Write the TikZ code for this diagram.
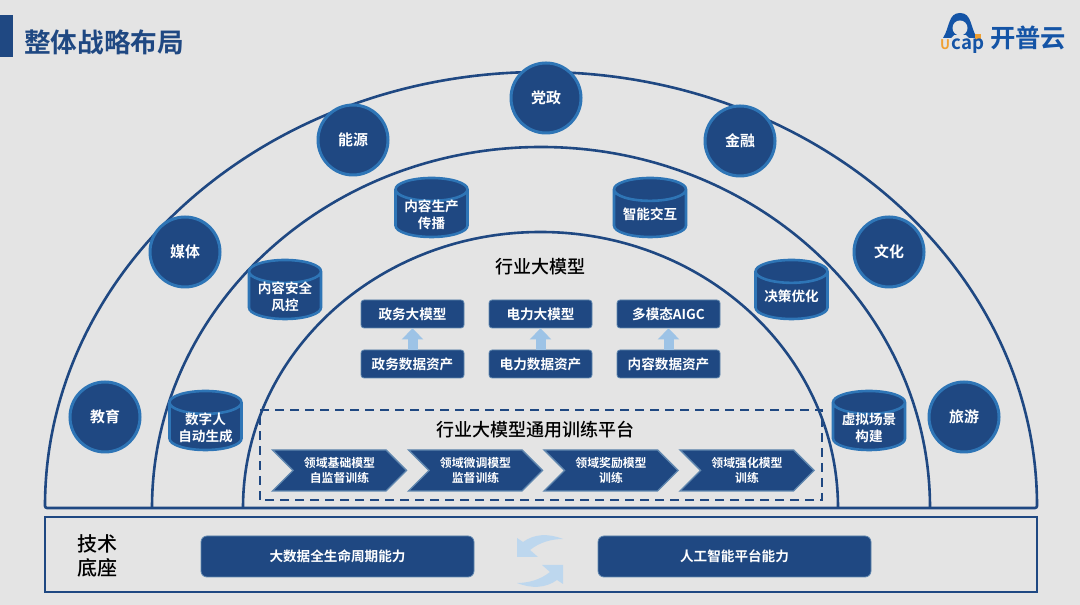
\documentclass[tikz,border=0pt]{standalone}
\usepackage{fontspec}
\setmainfont{Noto Sans CJK SC Medium}[BoldFont={Noto Sans CJK SC Bold}]
\definecolor{pagegray}{RGB}{228, 228, 228}
\definecolor{navy}{RGB}{31, 72, 130}
\definecolor{ringblue}{RGB}{46, 117, 182}
\definecolor{edgeblue}{RGB}{96, 135, 175}
\definecolor{arrowblue}{RGB}{157, 195, 230}
\definecolor{swapblue}{RGB}{189, 215, 238}
\definecolor{logoblue}{RGB}{20, 84, 166}
\definecolor{logoorange}{RGB}{240, 160, 50}
\usetikzlibrary{shapes.geometric, shapes.symbols, arrows.meta, positioning}
\def\px{0.75pt}
\tikzset{
  ring/.style={navy, line width=2.6*\px},
  sector/.style={circle, draw=ringblue, line width=3*\px, fill=navy, minimum size=70*\px, inner sep=0pt, text=white, font=\fontsize{11.2pt}{14pt}\selectfont\bfseries},
  drum/.style={cylinder, shape border rotate=90, aspect=0.42, anchor=shape center, draw=ringblue, line width=2.6*\px, fill=navy, minimum width=72*\px, minimum height=59*\px, inner sep=0pt, font=\fontsize{10.2pt}{12.8pt}\selectfont\bfseries},
  drumtext/.style={inner sep=0pt, text=white, align=center, font=\fontsize{10.2pt}{12.8pt}\selectfont\bfseries},
  modelbox/.style={rectangle, rounded corners=3*\px, draw=edgeblue, line width=0.8*\px, fill=navy, minimum width=103*\px, minimum height=28*\px, inner sep=0pt, text=white, font=\fontsize{10.2pt}{13pt}\selectfont\bfseries},
  basebox/.style={modelbox, rounded corners=6*\px, minimum width=273*\px, minimum height=41*\px},
  stage/.style={signal, signal to=east, signal from=west, signal pointer angle=90, draw=edgeblue, line width=1.4*\px, fill=navy, minimum width=134*\px, minimum height=41*\px, inner sep=0pt, text=white, align=center, font=\fontsize{8.9pt}{11pt}\selectfont\bfseries},
  upflow/.style={arrowblue, line width=10*\px, -{Triangle[width=21*\px, length=11*\px]}},
  heading/.style={text=black, font=\fontsize{13.5pt}{16pt}\selectfont},
}
\begin{document}
\begin{tikzpicture}[x=0.75pt, y=0.75pt]
  \useasboundingbox (0,0) rectangle (1080,605);
  \fill[pagegray] (0,0) rectangle (1080,605);
  % title
  \fill[navy] (0,548) rectangle (13,590);
  \node[anchor=west, inner sep=0pt, text=navy, font=\fontsize{20pt}{24pt}\selectfont\bfseries] (title) at (24,563) {整体战略布局};
  % logo
  \fill[logoblue] (943,567) .. controls (950,578) and (948,592) .. (960,592) .. controls (972,592) and (970,578) .. (977,567) -- (969,567) -- (966,570) -- (954,570) -- (951,567) -- cycle;
  \fill[pagegray] (960,577) circle (7.5);
  \fill[logoorange] (975,565) rectangle (981,571);
  \node[inner sep=0pt, text=logoorange, font=\fontsize{10pt}{12pt}\selectfont\bfseries] (logou) at (945,560) {U};
  \node[base right=1pt of logou, inner sep=0pt, text=logoblue, font=\fontsize{14pt}{12pt}\selectfont\bfseries] (logocap) {cap};
  \node[inner sep=0pt, text=logoblue, font=\fontsize{19pt}{20pt}\selectfont\bfseries] (logoname) at (1028,567) {开普云};
  % arcs
  \draw[ring, rounded corners=2*\px] (45,97) arc[start angle=180, end angle=0, x radius=496, y radius=436] -- cycle;
  \draw[ring] (152,97) arc[start angle=180, end angle=0, x radius=389, y radius=361];
  \draw[ring] (243,97) arc[start angle=180, end angle=0, x radius=297.5, y radius=276];
  % sectors
  \foreach \name/\xc/\yc/\txt in {party/546/507/党政, energy/353/465/能源, finance/740/464/金融, media/185/353/媒体, culture/889/353/文化, edu/105/188/教育, travel/964/188/旅游} {
    \node[sector] (\name) at (\xc,\yc) {\txt};
  }
  % scenes
  \foreach \name/\xc/\yc/\txt in {produce/431.5/397.5/{内容生产\\传播}, interact/650/397.5/{智能交互}, safety/285/315.5/{内容安全\\风控}, decide/791.5/315.5/{决策优化}, human/205.5/184.5/{数字人\\自动生成}, scene/869/184.5/{虚拟场景\\构建}} {
    \node[drum] (\name) at (\xc,\yc) {\phantom{智能交互}};
    \node[drumtext, yshift=-7*\px] (\name text) at (\name.shape center) {\txt};
  }
  % models
  \node[heading] (modelhead) at (540,338) {行业大模型};
  \foreach \name/\xc/\top/\bot in {gov/412.5/政务大模型/政务数据资产, power/540.5/电力大模型/电力数据资产, aigc/668.5/多模态AIGC/内容数据资产} {
    \node[modelbox] (\name model) at (\xc,291) {\top};
    \node[modelbox] (\name asset) at (\xc,241) {\bot};
    \draw[upflow] (\name asset.north) -- (\name model.south);
  }
  % platform
  \draw[navy, line width=2.4*\px, dash pattern=on 9*\px off 6*\px] (260,105) rectangle (822,195);
  \node[heading] (platform) at (535,175) {行业大模型通用训练平台};
  \foreach \name/\xc/\txt in {basic/339.5/{领域基础模型\\自监督训练}, tune/475.5/{领域微调模型\\监督训练}, reward/611/{领域奖励模型\\训练}, rein/747/{领域强化模型\\训练}} {
    \node[stage] (\name) at (\xc,134.5) {\txt};
  }
  % base
  \draw[navy, line width=2.6*\px] (45,13) rectangle (1037,88);
  \node[align=center, text=black, font=\fontsize{15pt}{18.5pt}\selectfont] (basehead) at (97,49) {技术\\底座};
  \node[basebox] (bigdata) at (337.5,48.5) {大数据全生命周期能力};
  \node[basebox] (aiplat) at (734.5,48.5) {人工智能平台能力};
  \fill[swapblue] (517,67) -- (517,48) -- (538,48) -- (530,55) .. controls (540,63) and (552,66) .. (563,66) .. controls (548,72) and (534,71) .. (523,63) -- cycle;
  \fill[swapblue] (563,21) -- (563,40) -- (542,40) -- (550,33) .. controls (540,25) and (528,22) .. (517,22) .. controls (532,16) and (546,17) .. (557,25) -- cycle;
\end{tikzpicture}
\end{document}
